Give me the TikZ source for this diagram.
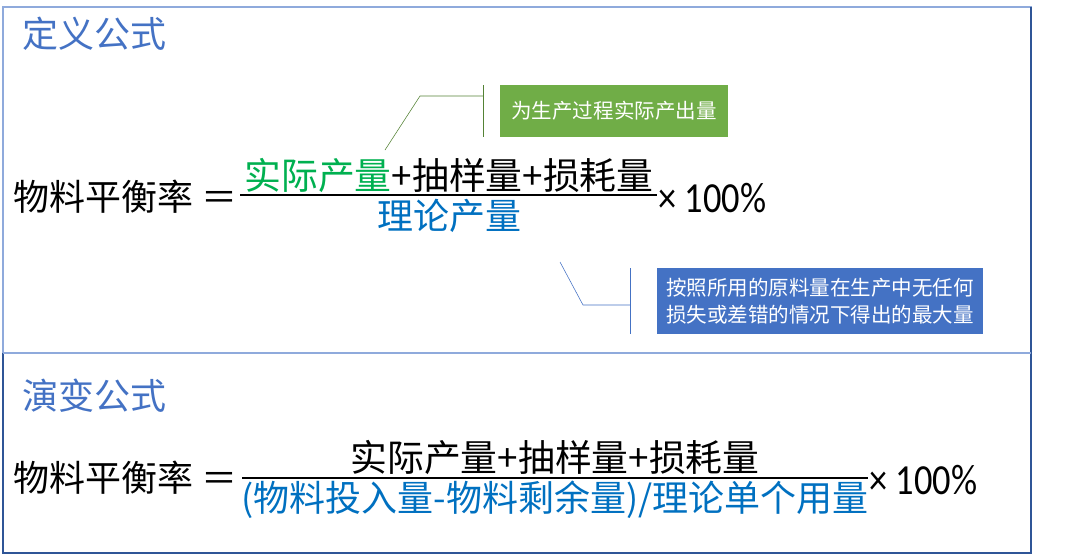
\documentclass[tikz,border=0pt]{standalone}
\usepackage{fontspec}
\setmainfont{Carlito}
\newfontfamily\cjk{Noto Sans CJK SC}
\newfontfamily\numfont[FakeStretch=0.85]{Carlito}
\usetikzlibrary{positioning}
\definecolor{titleblue}{HTML}{4472C4}
\definecolor{framelight}{HTML}{8FAADC}
\definecolor{framedark}{HTML}{2F5597}
\definecolor{realgreen}{HTML}{00B050}
\definecolor{denblue}{HTML}{0070C0}
\definecolor{notegreen}{HTML}{70AD47}
\definecolor{linegreen}{HTML}{548235}
\newcommand{\bigcjk}{\cjk\fontsize{25.6}{30}\selectfont}
\newcommand{\numcjk}{\cjk\fontsize{26.2}{30}\selectfont}
\newcommand{\notecjk}{\cjk\fontsize{14.6}{20}\selectfont}
\begin{document}
\begin{tikzpicture}[x=0.025cm,y=-0.025cm,
  title/.style={anchor=west, inner sep=0pt, text=titleblue, font=\bigcjk},
  formula/.style={inner sep=0pt, font=\bigcjk},
  pct/.style={anchor=west, inner sep=0pt, font=\numfont\fontsize{30.5}{32}\selectfont},
  notebox/.style={text=white, align=center, inner sep=0pt, font=\notecjk}]
\useasboundingbox (0,0) rectangle (1080,554);
% frames
\draw[framelight, line width=1.4pt] (3,7) rectangle (1031,353);
\draw[framedark, line width=1.4pt] (1031,7)--(1031,553)--(3,553)--(3,353);
\draw[framelight, line width=1.4pt] (3,353)--(1031,353);

% definition
\node[title] (title1) at (22,34) {定义公式};
\node[formula, anchor=west] (lhs1) at (13,197) {物料平衡率 ＝};
\node[formula, font=\numcjk] (num1) at (449,175) {\textcolor{realgreen}{实际产量}+抽样量+损耗量};
\node[formula, text=denblue] (den1) at (449,216) {理论产量};
\draw[line width=1.4pt] (240,195)--(657,195);
\node[pct] (times1) at (658,198) {× 100\%};

% notes
\node[notebox, fill=notegreen, minimum width=5.7cm, minimum height=1.3cm] (note1) at (614,111) {为生产过程实际产出量};
\coordinate (tip1) at (385,150);
\draw[linegreen] (tip1)--(420,96)--(483,96);
\draw[linegreen] (483,85)--(483,137);
\node[notebox, fill=titleblue, minimum width=8.15cm, minimum height=1.65cm] (note2) at (820,301) {按照所用的原料量在生产中无任何\\[-1pt]损失或差错的情况下得出的最大量};
\coordinate (tip2) at (560,262);
\draw[titleblue] (tip2)--(583,305)--(630,305);
\draw[titleblue] (630,268)--(630,334);

% variant
\node[title] (title2) at (22,396) {演变公式};
\node[formula, anchor=west] (lhs2) at (13,478) {物料平衡率 ＝};
\node[formula, font=\numcjk] (num2) at (555,457) {实际产量+抽样量+损耗量};
\node[formula, text=denblue] (den2) at (555,500) {(物料投入量-物料剩余量)/理论单个用量};
\draw[line width=1.4pt] (242,478)--(868,478);
\node[pct] (times2) at (869,480) {× 100\%};
\end{tikzpicture}
\end{document}
